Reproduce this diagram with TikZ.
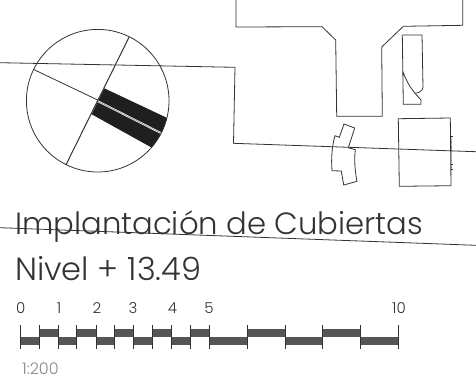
\documentclass[tikz,border=0pt]{standalone}
\usepackage{fontspec}
\setmainfont{Poppins}[UprightFont=* Light]
\usepackage{tikz}
\definecolor{inkgray}{HTML}{333333}
\definecolor{bargray}{HTML}{555555}
\definecolor{notegray}{HTML}{888888}
\tikzset{
	plan/.style={draw=inkgray,line width=0.8pt,line join=miter},
	label/.style={anchor=base west,inner sep=0pt,text=inkgray},
	digit/.style={anchor=base,inner sep=0pt,text=inkgray,font=\fontsize{15}{15}\selectfont},
	bar/.style={fill=bargray},
	tick/.style={draw=inkgray,line width=0.6pt}
}

\begin{document}
\begin{tikzpicture}[x=1pt,y=-1pt]
	\useasboundingbox (0,0) rectangle (476,384);
	% orientation disc
	\coordinate (o) at (97.7,100.7);
	\begin{scope}
		\clip (o) circle (71.3);
		\fill[black!88] (104.3,88.3) -- (180,124) -- (165,155) -- (91.7,114.3) -- cycle;
	\end{scope}
	\draw[white,line width=1.8pt] (97.5,101) -- (161.5,133.3);
	\draw[black!60,line width=0.4pt] (97.5,101) -- (161.5,133.3);
	\draw[plan] (o) circle (71.3);
	\draw[plan,line width=1pt] (129,37.3) coordinate(n) -- (66,164.7) coordinate(s);
	\draw[plan] (33.3,69.3) coordinate(w) -- (97.7,100);
	% section lines
	\draw[plan] (0,62.7) -- (235,67.3) -- (233.5,143.3) -- (476,151.7);
	\draw[plan] (0,227.7) -- (476,245.3);
	% upper outline
	\draw[plan] (236,0) -- (236,27) -- (322,26.7) -- (335.7,40) -- (336.7,116.3)
		-- (382.3,116.3) -- (381.7,47) -- (403.3,26.3) -- (462.7,25.3) -- (462.7,0);
	% narrow block
	\draw[plan] (402.3,35) -- (422,35) -- (423,87.3) .. controls (422.5,91) and (419,93) .. (415,93.3);
	\draw[plan] (402.3,35) -- (403.3,104.3) -- (421,104.3) -- (421,100)
		-- (415,93.3) .. controls (409,86) and (405,78) .. (402.7,70.7);
	% curved block
	\draw[plan] (344,124) -- (354.7,128) -- (348.3,147.7) -- (355.3,149.7)
		.. controls (354,160) and (355,171) .. (357,181.3) -- (343.7,185) -- (341.3,171) -- (332,170.7)
		.. controls (331,158) and (332,146) .. (335,135.7) -- (339.3,137.3) -- cycle;
	% square block
	\draw[plan] (398.3,118.7) -- (450.3,118) -- (451,185.7) -- (399.3,186.3) -- cycle;
	\draw[draw=inkgray,line width=0.3pt] (451,136) .. controls (452,150) and (452,160) .. (451.5,170);
	\foreach \y in {136,164.5,169.5}
		\draw[draw=inkgray,line width=0.3pt] (451,\y) -- (452.5,\y);
	% title
	\node[label,font=\fontsize{30.7}{31}\selectfont] (title) at (15,234.7) {Implantación de Cubiertas};
	\node[label,font=\fontsize{32}{32}\selectfont] (level) at (15,280) {Nivel + 13.49};
	% scale bar
	\foreach \i in {0,...,9} {
		\pgfmathsetmacro{\xa}{20.3+\i*18.94}
		\pgfmathsetmacro{\xb}{\xa+18.94}
		\ifodd\i
			\fill[bar] (\xa,329) rectangle (\xb,337);
		\else
			\fill[bar] (\xa,337) rectangle (\xb,345.3);
		\fi
	}
	\foreach \i in {0,...,4} {
		\pgfmathsetmacro{\xa}{209.7+\i*37.7}
		\pgfmathsetmacro{\xb}{\xa+37.7}
		\ifodd\i
			\fill[bar] (\xa,329) rectangle (\xb,337);
		\else
			\fill[bar] (\xa,337) rectangle (\xb,345.3);
		\fi
	}
	\foreach \x in {20.3,39,58.2,76.7,96.5,114.3,133.7,152.7,171.7,190.7,209.7,247,285,322.3,360.3,398}
		\draw[tick] (\x,325.3) -- (\x,349.3);
	\node[digit] (d0) at (20.7,313.7) {0};
	\node[digit] (d1) at (59,313.7) {1};
	\node[digit] (d2) at (97,313.7) {2};
	\node[digit] (d3) at (133,313.7) {3};
	\node[digit] (d4) at (172.5,313.7) {4};
	\node[digit] (d5) at (209,313.7) {5};
	\node[digit] (d10) at (399,313.7) {10};
	\node[label,text=notegray,font=\fontsize{16}{16}\selectfont] (ratio) at (22,374.3) {1:200};
\end{tikzpicture}
\end{document}
